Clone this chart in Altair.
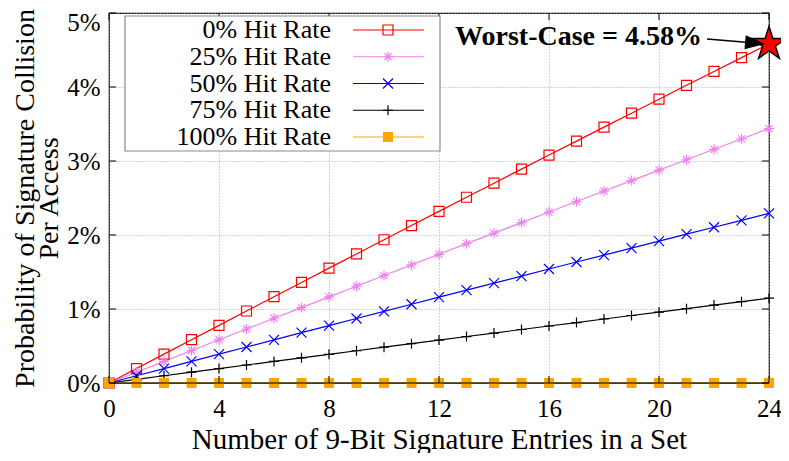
import altair as alt
import pandas as pd

# ---------------- data ----------------
entries = list(range(25))
series_names = ["0% Hit Rate", "25% Hit Rate", "50% Hit Rate", "75% Hit Rate", "100% Hit Rate"]
hit_0 = [0.000, 0.195, 0.390, 0.585, 0.779, 0.973, 1.166, 1.359, 1.552, 1.744, 1.936, 2.128, 2.319,
         2.510, 2.700, 2.890, 3.080, 3.269, 3.458, 3.646, 3.835, 4.023, 4.210, 4.397, 4.584]
hit_25 = [0.000, 0.146, 0.293, 0.439, 0.584, 0.730, 0.875, 1.019, 1.164, 1.308, 1.452, 1.596, 1.739,
          1.883, 2.025, 2.168, 2.310, 2.452, 2.594, 2.735, 2.876, 3.017, 3.158, 3.298, 3.438]
hit_50 = [0.000, 0.098, 0.195, 0.292, 0.390, 0.486, 0.583, 0.680, 0.776, 0.872, 0.968, 1.064, 1.160,
          1.255, 1.350, 1.445, 1.540, 1.635, 1.729, 1.823, 1.917, 2.011, 2.105, 2.198, 2.292]
hit_75 = [0.000, 0.049, 0.098, 0.146, 0.195, 0.243, 0.292, 0.340, 0.388, 0.436, 0.484, 0.532, 0.580,
          0.628, 0.675, 0.723, 0.770, 0.817, 0.865, 0.912, 0.959, 1.005, 1.053, 1.099, 1.146]
hit_100 = [0.0, 0.0, 0.0, 0.0, 0.0, 0.0, 0.0, 0.0, 0.0, 0.0, 0.0, 0.0, 0.0,
           0.0, 0.0, 0.0, 0.0, 0.0, 0.0, 0.0, 0.0, 0.0, 0.0, 0.0, 0.0]
x_ticks = [0, 4, 8, 12, 16, 20, 24]
y_ticks = [0, 1, 2, 3, 4, 5]
worst_x = [24]
worst_y = [4.58]
worst_label = "Worst-Case = 4.58%"
x_title = "Number of 9-Bit Signature Entries in a Set"
y_title = ["Probability of Signature Collision", "Per Access"]

# ---------------- styles ----------------
colors = ["#ff0000", "#ee82ee", "#0000ff", "#000000", "#ffa500"]
shapes = [
    "square",
    "M-1,0L1,0M0,-1L0,1M-0.7,-0.7L0.7,0.7M-0.7,0.7L0.7,-0.7",
    "M-1,-1L1,1M-1,1L1,-1",
    "M-1,0L1,0M0,-1L0,1",
    "square",
]
STAR = "M0,-1L0.2245,-0.309L0.951,-0.309L0.363,0.118L0.588,0.809L0,0.382L-0.588,0.809L-0.363,0.118L-0.951,-0.309L-0.2245,-0.309Z"
ARROWHEAD = "M0,0L-1,-0.35L-1,0.35Z"
FONT = "'Liberation Serif', 'Times New Roman', 'DejaVu Serif', serif"
W, H = 660, 370

rows = []
for name, vals in zip(series_names, [hit_0, hit_25, hit_50, hit_75, hit_100]):
    for e, v in zip(entries, vals):
        rows.append({"series": name, "entries": e, "prob": v})
df = pd.DataFrame(rows)

color_enc = alt.Color("series:N", scale=alt.Scale(domain=series_names, range=colors), legend=None)
shape_enc = alt.Shape("series:N", scale=alt.Scale(domain=series_names, range=shapes), legend=None)

x_enc = alt.X(
    "entries:Q",
    scale=alt.Scale(domain=[0, 24], nice=False, zero=False),
    axis=alt.Axis(values=x_ticks, title=x_title, labelPadding=13, titlePadding=4, labelFlush=False,
                  titleFontSize=29),
)
y_enc = alt.Y(
    "prob:Q",
    scale=alt.Scale(domain=[0, 5], nice=False),
    axis=alt.Axis(values=y_ticks, labelExpr="datum.value + '%'", title=y_title, labelFlush=False,
                  labelOffset={"condition": {"test": "datum.value == 5", "value": 9}, "value": 0},
                  labelPadding=9, titlePadding=3, titleLineHeight=24, titleFontSize=28),
)

base = alt.Chart(df)
lines = base.mark_line(strokeWidth=1.2).encode(x=x_enc, y=y_enc, color=color_enc, detail="series:N")
open_pts = base.transform_filter(alt.datum.series != "100% Hit Rate").mark_point(
    filled=False, strokeWidth=1.2, size=100, opacity=1
).encode(x="entries:Q", y="prob:Q", color=color_enc, shape=shape_enc)
filled_pts = base.transform_filter(alt.datum.series == "100% Hit Rate").mark_point(
    filled=True, size=100, opacity=1, shape="square", color="#ffa500"
).encode(x="entries:Q", y="prob:Q")

one = alt.Data(values=[{}])
bottom_frame = alt.Chart(one).mark_rule(color="black", strokeWidth=1.2).encode(
    x=alt.value(0), x2=alt.value(W), y=alt.value(H))

xt = pd.DataFrame({"t": x_ticks})
yt = pd.DataFrame({"t": y_ticks})
tick_style = dict(color="black", strokeWidth=1)
ticks_bottom = alt.Chart(xt).mark_rule(**tick_style).encode(x="t:Q", y=alt.value(H - 7), y2=alt.value(H))
ticks_top = alt.Chart(xt).mark_rule(**tick_style).encode(x="t:Q", y=alt.value(0), y2=alt.value(7))
ticks_left = alt.Chart(yt).mark_rule(**tick_style).encode(y="t:Q", x=alt.value(0), x2=alt.value(7))
ticks_right = alt.Chart(yt).mark_rule(**tick_style).encode(y="t:Q", x=alt.value(W - 7), x2=alt.value(W))

worst_df = pd.DataFrame({"entries": worst_x, "prob": worst_y})
star = alt.Chart(worst_df).mark_point(
    shape=STAR, filled=True, fill="#ff0000", stroke="black", strokeWidth=1.5, size=1250, opacity=1
).encode(x="entries:Q", y="prob:Q")

annot = alt.Chart(one).mark_text(
    text=worst_label, font=FONT, fontSize=28, fontWeight="bold", align="right", baseline="middle", color="black"
).encode(x=alt.value(593), y=alt.value(24))
arrow = alt.Chart(one).mark_rule(color="black", strokeWidth=1.5).encode(
    x=alt.value(598), y=alt.value(26), x2=alt.value(640), y2=alt.value(29.6))
arrow_head = alt.Chart(one).mark_point(
    shape=ARROWHEAD, filled=True, color="black", size=1600, angle=5, opacity=1
).encode(x=alt.value(656), y=alt.value(31))

main = alt.layer(lines, open_pts, filled_pts, bottom_frame,
                 ticks_bottom, ticks_top, ticks_left, ticks_right,
                 star, arrow, arrow_head, annot)

# ---------------- legend (custom, symbols right of labels) ----------------
leg_df = pd.DataFrame({"series": series_names})
leg_y = alt.Y("series:N", scale=alt.Scale(type="point", domain=series_names, range=[17, 124], padding=0), axis=None)
leg_box = alt.Chart(one).mark_rect(fill="white", stroke="#8a8a8a", strokeWidth=1.2).encode(
    x=alt.value(16), x2=alt.value(331), y=alt.value(3), y2=alt.value(138))
leg_text = alt.Chart(leg_df).mark_text(font=FONT, fontSize=26, align="right", baseline="middle", color="black").encode(
    x=alt.value(222), y=leg_y, text="series:N")
leg_line = alt.Chart(leg_df).mark_rule(strokeWidth=1.2).encode(
    x=alt.value(244), x2=alt.value(315), y=leg_y, color=color_enc)
leg_open = alt.Chart(leg_df).transform_filter(alt.datum.series != "100% Hit Rate").mark_point(
    filled=False, strokeWidth=1.2, size=100, opacity=1
).encode(x=alt.value(279), y=leg_y, color=color_enc, shape=shape_enc)
leg_fill = alt.Chart(leg_df).transform_filter(alt.datum.series == "100% Hit Rate").mark_point(
    filled=True, size=100, opacity=1, shape="square", color="#ffa500"
).encode(x=alt.value(279), y=leg_y)
legend = alt.layer(leg_box, leg_text, leg_line, leg_open, leg_fill)

chart = alt.layer(main, legend).resolve_scale(y="independent").properties(
    width=W, height=H,
    autosize=alt.AutoSizeParams(type="none"),
    padding={"left": 101, "top": 5, "right": 12, "bottom": 70},
).configure_view(stroke="black", strokeWidth=1.2).configure_axis(
    labelFont=FONT, labelFontSize=25, labelColor="black",
    titleFont=FONT, titleFontSize=28, titleFontWeight="normal", titleColor="black",
    ticks=False, domain=False,
    grid=True, gridColor="#a8a8a8", gridDash=[1, 2], gridWidth=1,
)

chart.save("out.html", embed_options={"renderer": "svg", "actions": False})
